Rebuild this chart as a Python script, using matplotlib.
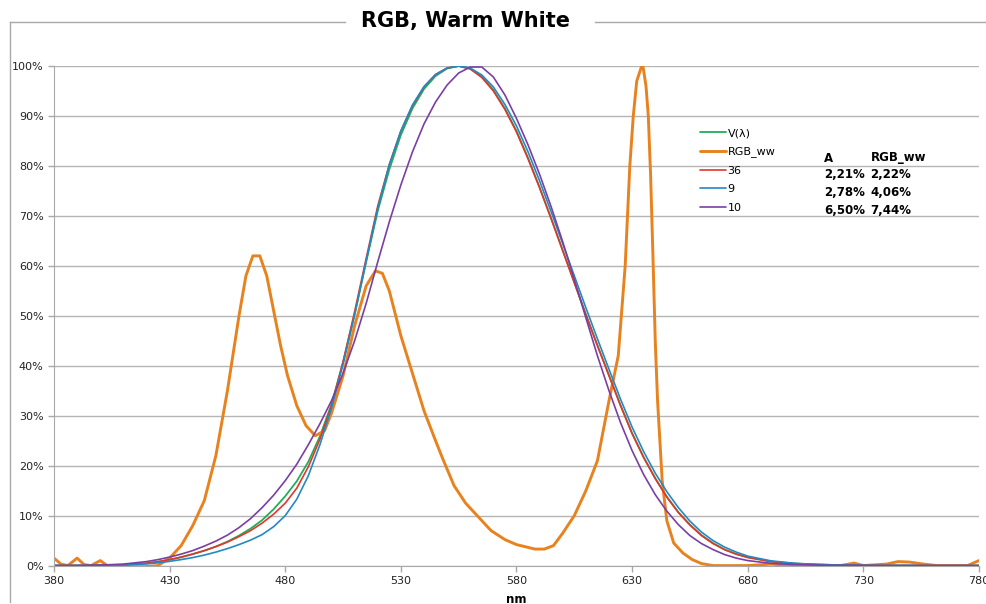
import matplotlib
matplotlib.use("Agg")
import matplotlib.pyplot as plt
from matplotlib.lines import Line2D
from matplotlib.ticker import FuncFormatter

# wavelengths (nm) and relative values (%)
wl_v = [380, 390, 400, 410, 420, 425, 430, 435, 440, 445, 450, 455, 460, 465, 470, 475,
        480, 485, 490, 495, 500, 505, 510, 515, 520, 525, 530, 535, 540, 545, 550, 555,
        560, 565, 570, 575, 580, 585, 590, 595, 600, 605, 610, 615, 620, 625, 630, 635,
        640, 645, 650, 655, 660, 665, 670, 675, 680, 690, 700, 710, 720, 740, 760, 780]
v_lambda = [0.0, 0.01, 0.04, 0.12, 0.4, 0.73, 1.16, 1.68, 2.3, 2.98, 3.8, 4.8, 6.0, 7.4, 9.1, 11.3,
            13.9, 16.9, 20.8, 25.9, 32.3, 40.7, 50.3, 60.8, 71.0, 79.3, 86.2, 91.5, 95.4, 98.0, 99.5, 100.0,
            99.5, 97.9, 95.2, 91.5, 87.0, 81.6, 75.7, 69.5, 63.1, 56.7, 50.3, 44.1, 38.1, 32.1, 26.5, 21.7,
            17.5, 13.8, 10.7, 8.2, 6.1, 4.5, 3.2, 2.3, 1.7, 0.82, 0.41, 0.21, 0.1, 0.02, 0.0, 0.0]

s36 = [0.0, 0.01, 0.05, 0.15, 0.5, 0.8, 1.2, 1.7, 2.3, 3.0, 3.8, 4.7, 5.8, 7.0, 8.5, 10.3,
       12.5, 15.5, 19.8, 25.3, 32.0, 40.8, 50.8, 61.5, 72.0, 80.3, 87.0, 92.0, 95.8, 98.3, 99.6, 100.0,
       99.4, 97.7, 95.0, 91.3, 86.8, 81.4, 75.6, 69.4, 63.0, 56.6, 50.2, 44.0, 38.0, 32.0, 26.4, 21.6,
       17.4, 13.7, 10.6, 8.1, 6.0, 4.4, 3.2, 2.3, 1.6, 0.8, 0.4, 0.2, 0.1, 0.02, 0.0, 0.0]

s9 = [0.0, 0.01, 0.03, 0.1, 0.35, 0.55, 0.85, 1.2, 1.6, 2.1, 2.7, 3.4, 4.2, 5.1, 6.2, 7.8,
      10.0, 13.3, 18.0, 24.2, 31.5, 40.3, 50.2, 61.0, 71.5, 80.2, 87.0, 92.2, 95.9, 98.3, 99.6, 100.0,
      99.6, 98.2, 95.8, 92.3, 88.0, 82.8, 77.0, 70.8, 64.4, 58.0, 51.6, 45.4, 39.3, 33.3, 27.7, 22.8,
      18.5, 14.8, 11.6, 8.9, 6.7, 5.0, 3.7, 2.7, 1.9, 0.95, 0.47, 0.23, 0.1, 0.02, 0.0, 0.0]

s10 = [0.0, 0.02, 0.1, 0.3, 0.8, 1.2, 1.7, 2.3, 3.0, 3.9, 4.9, 6.1, 7.6, 9.4, 11.6, 14.1,
       17.0, 20.3, 24.2, 28.4, 33.0, 38.5, 45.0, 52.5, 60.8, 68.8, 76.2, 82.8, 88.4, 92.8, 96.2, 98.6,
       99.8, 99.8, 97.8, 94.2, 89.5, 84.2, 78.3, 71.8, 64.8, 57.3, 49.6, 42.0, 35.0, 28.6, 23.0, 18.2,
       14.2, 10.9, 8.2, 6.0, 4.4, 3.2, 2.2, 1.5, 1.0, 0.45, 0.2, 0.1, 0.04, 0.0, 0.0, 0.0]

wl_rgb = [380, 383, 386, 390, 393, 396, 400, 403, 406, 410, 420, 425, 430, 435, 440, 445,
          450, 455, 460, 463, 466, 469, 472, 475, 478, 481, 485, 489, 493, 497, 500, 505,
          510, 515, 519, 522, 525, 530, 535, 540, 545, 548, 553, 558, 563, 569, 575, 580,
          588, 592, 596, 600, 605, 610, 615, 620, 624, 627, 629, 630.5, 632, 634.5, 636, 637,
          638, 639, 640, 641, 643, 645, 648, 652, 656, 660, 665, 680, 690, 700, 720, 726,
          730, 740, 745, 750, 756, 762, 775, 780]
rgb_ww = [1.5, 0.3, 0.0, 1.5, 0.2, 0.0, 1.0, 0.0, 0.0, -0.2, -0.2, 0.0, 1.5, 4.0, 8.0, 13.0,
          22.0, 35.0, 50.0, 58.0, 62.0, 62.0, 58.0, 51.0, 44.0, 38.0, 32.0, 28.0, 26.0, 27.0, 30.5, 38.0,
          48.0, 56.0, 59.0, 58.5, 55.0, 46.0, 38.5, 31.0, 25.0, 21.5, 16.0, 12.5, 10.0, 7.0, 5.2, 4.2,
          3.3, 3.3, 4.0, 6.5, 10.0, 15.0, 21.0, 33.0, 42.0, 60.0, 80.0, 90.0, 97.0, 100.5, 96.0, 90.0,
          78.0, 62.0, 45.0, 33.0, 17.0, 9.0, 4.5, 2.5, 1.2, 0.4, 0.0, 0.0, 0.3, 0.0, 0.0, 0.5,
          0.0, 0.3, 0.8, 0.7, 0.3, 0.0, 0.0, 1.0]

series = [
    ("V(\u03bb)", wl_v, v_lambda, "#1fae5a", 1.3),
    ("RGB_ww", wl_rgb, rgb_ww, "#e8821e", 2.1),
    ("36", wl_v, s36, "#e0372c", 1.2),
    ("9", wl_v, s9, "#2389c4", 1.2),
    ("10", wl_v, s10, "#7a3fa3", 1.2),
]

table_head = ["A", "RGB_ww"]
table_a = ["2,21%", "2,78%", "6,50%"]
table_rgb = ["2,22%", "4,06%", "7,44%"]

fig = plt.figure(figsize=(9.87, 6.04), dpi=100)
ax = fig.add_axes([0.0547, 0.0636, 0.9372, 0.8271])

for name, x, y, c, lw in series:
    ax.plot(x, [v / 100 for v in y], color=c, lw=lw, label=name, solid_capstyle="round")

ax.set_xlim(380, 780)
ax.set_ylim(0, 1.0)
ax.set_xticks(range(380, 781, 50))
ax.set_yticks([i / 10 for i in range(11)])
ax.yaxis.set_major_formatter(FuncFormatter(lambda v, p: f"{v * 100:.0f}%"))
ax.grid(axis="y", color="#b5b5b5", lw=1.0)
ax.set_axisbelow(True)
for s in ["top", "right"]:
    ax.spines[s].set_visible(False)
for s in ["left", "bottom"]:
    ax.spines[s].set_color("#a8a8a8")
ax.tick_params(axis="both", colors="#a8a8a8", labelcolor="#222222", labelsize=8, length=4, width=1)
ax.set_xlabel("nm", fontsize=8.5, fontweight="bold", labelpad=5)

# title breaking the chart frame
fig.text(0.472, 0.966, "RGB, Warm White", ha="center", va="center", fontsize=15,
         fontweight="bold", family=["Liberation Sans Narrow", "DejaVu Sans"])
fig.add_artist(Line2D([0.0101, 0.0101], [0.0033, 0.9636], color="#a8a8a8", lw=1))
fig.add_artist(Line2D([0.0101, 0.350], [0.9636, 0.9636], color="#a8a8a8", lw=1))
fig.add_artist(Line2D([0.603, 1.0], [0.9636, 0.9636], color="#a8a8a8", lw=1))

leg = ax.legend(loc="upper left", bbox_to_anchor=(0.709, 1 - 128 / 604), bbox_transform=fig.transFigure,
                frameon=False, fontsize=8, handlelength=2.4, handletextpad=0.1,
                labelspacing=0.76, borderpad=0, borderaxespad=0)

# A / RGB_ww table next to legend
fig.text(0.835, 1 - 158 / 604, table_head[0], fontsize=8.5, fontweight="bold", va="center")
fig.text(0.882, 1 - 158 / 604, table_head[1], fontsize=8.5, fontweight="bold", va="center")
for i in range(3):
    yy = 1 - (175 + i * 17.5) / 604
    fig.text(0.835, yy, table_a[i], fontsize=8.5, fontweight="bold", va="center")
    fig.text(0.882, yy, table_rgb[i], fontsize=8.5, fontweight="bold", va="center")

fig.savefig("out.png", dpi=100)
